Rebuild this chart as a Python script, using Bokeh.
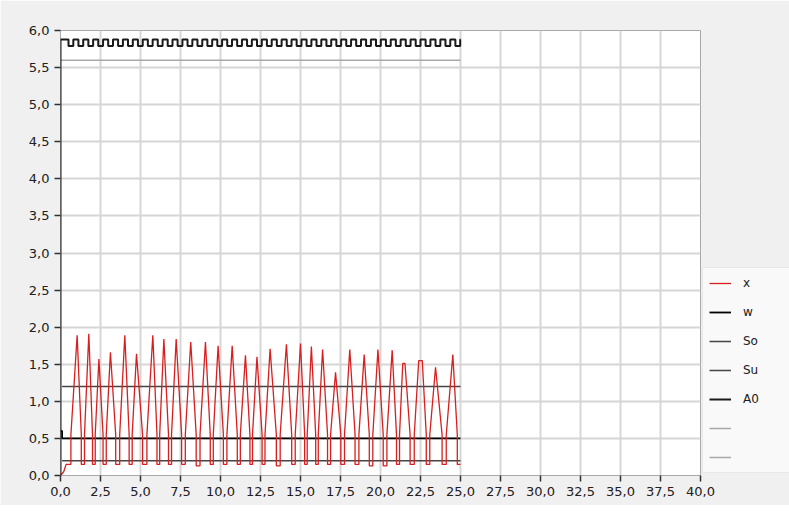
from bokeh.plotting import figure
from bokeh.models import FixedTicker, CustomJSTickFormatter, Legend, LegendItem, Range1d
from bokeh.embed import file_html
from bokeh.resources import INLINE

# ---- data ----
x_ticks = [0.0, 2.5, 5.0, 7.5, 10.0, 12.5, 15.0, 17.5, 20.0, 22.5, 25.0,
           27.5, 30.0, 32.5, 35.0, 37.5, 40.0]
y_ticks = [0.0, 0.5, 1.0, 1.5, 2.0, 2.5, 3.0, 3.5, 4.0, 4.5, 5.0, 5.5, 6.0]

# x (red): measured signal -- start-up, then one spike per cycle
x_start_t = [0.0, 0.2, 0.35, 0.65]
x_start_v = [0.0, 0.05, 0.15, 0.15]
x_peak_t = [1.04, 1.77, 2.40, 3.12, 4.02, 4.75, 5.77, 6.46, 7.23, 8.14,
            9.06, 9.85, 10.73, 11.56, 12.28, 13.10, 14.12, 15.00, 15.68, 16.38,
            17.19, 18.08, 18.98, 19.84, 20.73, 21.46, 22.50, 23.44, 24.52]
x_peak_v = [1.89, 1.91, 1.57, 1.66, 1.89, 1.64, 1.89, 1.84, 1.84, 1.80,
            1.80, 1.75, 1.75, 1.62, 1.60, 1.71, 1.77, 1.78, 1.74, 1.70,
            1.39, 1.70, 1.63, 1.70, 1.69, 1.51, 1.55, 1.46, 1.63]
x_peak_flat = [0, 0, 0, 0, 0, 0, 0, 0, 0, 0,
               0, 0, 0, 0, 0, 0, 0, 0, 0, 0,
               0, 0, 0, 0, 0, 0.07, 0.11, 0, 0]
x_trough_start = [1.30, 2.00, 2.66, 3.45, 4.29, 5.13, 6.03, 6.75, 7.57, 8.48,
                  9.36, 10.18, 11.05, 11.84, 12.60, 13.49, 14.45, 15.26, 15.95, 16.69,
                  17.52, 18.41, 19.30, 20.17, 21.00, 21.85, 22.86, 23.85, 24.80]
x_trough_end = [1.50, 2.17, 2.86, 3.70, 4.48, 5.40, 6.20, 6.94, 7.80, 8.72,
                9.55, 10.40, 11.24, 12.00, 12.78, 13.73, 14.67, 15.42, 16.11, 16.88,
                17.75, 18.65, 19.52, 20.40, 21.19, 22.11, 23.08, 24.11, 25.0]
x_trough_v = [0.15, 0.15, 0.15, 0.15, 0.15, 0.15, 0.15, 0.15, 0.15, 0.13,
              0.15, 0.15, 0.15, 0.15, 0.15, 0.13, 0.15, 0.15, 0.15, 0.15,
              0.15, 0.15, 0.13, 0.13, 0.15, 0.15, 0.15, 0.15, 0.15]
x_knee_v = 0.55   # level where the steep lower edge of each spike bends

# w, So, Su: set-point / limit lines
w_t = [0.0, 0.1, 0.1, 25.0]
w_v = [0.6, 0.6, 0.5, 0.5]
so_t = [0.1, 25.0]
so_v = [1.2, 1.2]
su_t = [0.1, 25.0]
su_v = [0.2, 0.2]
top_t = [0.0, 25.0]
top_v = [5.6, 5.6]

# A0: digital output square wave near the top
a0_high = 5.88
a0_low = 5.79
a0_dip_start = [0.50, 1.12, 1.74, 2.36, 2.98, 3.60, 4.22, 4.84, 5.46, 6.08,
                6.70, 7.32, 7.94, 8.56, 9.18, 9.80, 10.42, 11.04, 11.66, 12.28,
                12.90, 13.52, 14.14, 14.76, 15.38, 16.00, 16.62, 17.24, 17.86, 18.48,
                19.10, 19.72, 20.34, 20.96, 21.58, 22.20, 22.82, 23.44, 24.06, 24.68]
a0_dip_end = [0.80, 1.42, 2.04, 2.66, 3.28, 3.90, 4.52, 5.14, 5.76, 6.38,
              7.00, 7.62, 8.24, 8.86, 9.48, 10.10, 10.72, 11.34, 11.96, 12.58,
              13.20, 13.82, 14.44, 15.06, 15.68, 16.30, 16.92, 17.54, 18.16, 18.78,
              19.40, 20.02, 20.64, 21.26, 21.88, 22.50, 23.12, 23.74, 24.36, 24.98]

# ---- build polylines from the values above ----
red_t = list(x_start_t)
red_v = list(x_start_v)
prev_end = x_start_t[-1]
for pt, pv, fl, ts, te, tv in zip(x_peak_t, x_peak_v, x_peak_flat,
                                  x_trough_start, x_trough_end, x_trough_v):
    red_t.append(prev_end)
    red_v.append(x_knee_v)
    if fl > 0:
        red_t += [pt - fl, pt + fl]
        red_v += [pv, pv]
    else:
        red_t.append(pt)
        red_v.append(pv)
    red_t += [ts, ts, te]
    red_v += [x_knee_v, tv, tv]
    prev_end = te

a0_t = [0.0, 0.0]
a0_v = [0.0, a0_high]
for s, e in zip(a0_dip_start, a0_dip_end):
    a0_t += [s, s, e, e]
    a0_v += [a0_high, a0_low, a0_low, a0_high]
a0_t.append(25.0)
a0_v.append(a0_high)

FONT = "DejaVu Sans"

p = figure(frame_width=640, frame_height=445,
           x_range=Range1d(0, 40), y_range=Range1d(0, 6),
           output_backend="svg", toolbar_location=None,
           min_border_left=60, min_border_top=30, min_border_bottom=30,
           min_border_right=89)
p.background_fill_color = "white"
p.border_fill_color = "#f0f0f0"
p.outline_line_color = "#a8a8a8"
p.outline_line_width = 1

fmt = CustomJSTickFormatter(code="return tick.toFixed(1).replace('.', ',');")
for ax, ticks in ((p.xaxis, x_ticks), (p.yaxis, y_ticks)):
    ax.ticker = FixedTicker(ticks=ticks)
    ax.formatter = fmt
    ax.axis_line_color = None
    ax.major_tick_in = 0
    ax.major_tick_out = 6
    ax.major_tick_line_color = "#303030"
    ax.major_tick_line_width = 1.5
    ax.minor_tick_line_color = None
    ax.major_label_text_font = FONT
    ax.major_label_text_font_size = "13px"
    ax.major_label_text_color = "#202020"
p.xaxis.major_label_standoff = 5
p.yaxis.major_label_standoff = 5

p.xgrid.ticker = FixedTicker(ticks=x_ticks)
p.ygrid.ticker = FixedTicker(ticks=y_ticks)
for g in (p.xgrid, p.ygrid):
    g.grid_line_color = "#d6d6d6"
    g.grid_line_width = 2

r_top = p.line(top_t, top_v, line_color="#a8a8a8", line_width=1.5)
r_so = p.line(so_t, so_v, line_color="#454545", line_width=1.5)
r_su = p.line(su_t, su_v, line_color="#454545", line_width=1.5)
r_w = p.line(w_t, w_v, line_color="#000000", line_width=1.8)
r_x = p.line(red_t, red_v, line_color="#d81e1e", line_width=1.3)
r_a0 = p.line(a0_t, a0_v, line_color="#1a1a1a", line_width=2)

legend = Legend(items=[
    LegendItem(label="x", renderers=[r_x]),
    LegendItem(label="w", renderers=[r_w]),
    LegendItem(label="So", renderers=[r_so]),
    LegendItem(label="Su", renderers=[r_su]),
    LegendItem(label="A0", renderers=[r_a0]),
    LegendItem(label=" ", renderers=[r_top]),
    LegendItem(label=" ", renderers=[r_top]),
], location="bottom_left")
legend.label_text_font = FONT
legend.label_text_font_size = "12px"
legend.label_text_color = "#202020"
legend.glyph_width = 22
legend.glyph_height = 18
legend.label_height = 18
legend.label_width = 40
legend.spacing = 11
legend.padding = 6
legend.margin = 2
legend.label_standoff = 12
legend.background_fill_color = "#f9f9f9"
legend.border_line_color = "#d8d8d8"
p.add_layout(legend, "right")

open("out.html", "w").write(file_html(p, INLINE))
